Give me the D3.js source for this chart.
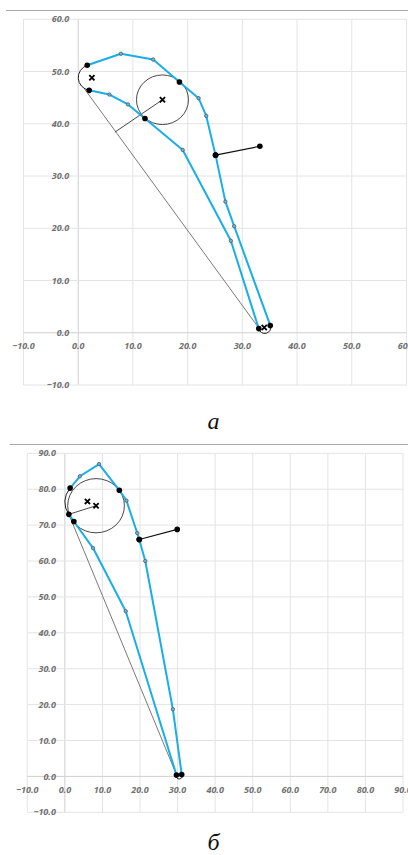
<!DOCTYPE html>
<html><head><meta charset="utf-8">
<script src="https://cdn.jsdelivr.net/npm/d3@7"></script>
<style>
html,body{margin:0;padding:0;background:#fff;}
svg{display:block;}
.tick{font-family:"Open Sans","DejaVu Sans",sans-serif;font-weight:bold;font-style:italic;font-size:9px;fill:#717171;}
.cap{font-family:"Liberation Serif","Times New Roman",serif;font-style:italic;font-size:24px;fill:#111;}
</style></head>
<body>
<svg id="c" width="408" height="855"></svg>
<script>
// ---------- Chart а ----------
const aTicksX = [-10, 0, 10, 20, 30, 40, 50, 60];
const aTicksY = [-10, 0, 10, 20, 30, 40, 50, 60];
const aUpperX = [1.65, 7.8, 13.7, 18.5, 22.0, 23.4, 25.1, 26.9, 28.5, 35.1];
const aUpperY = [51.2, 53.4, 52.3, 48.0, 44.9, 41.5, 34.0, 25.1, 20.4, 1.4];
const aUpperKey = [1, 0, 0, 1, 0, 0, 1, 0, 0, 1];
const aLowerX = [2.0, 5.7, 9.1, 12.2, 19.1, 27.9, 33.0];
const aLowerY = [46.4, 45.6, 43.7, 41.0, 35.0, 17.6, 0.8];
const aLowerKey = [1, 0, 0, 1, 0, 0, 1];
const aChord = [[1.2, 46.6], [33.0, 0.9]];
const aLeCenter = [2.5, 48.8], aLeRadius = 2.5;
const aTeCenter = [34.0, 1.0], aTeRadius = 1.1;
const aCircleCenter = [15.4, 44.6], aCircleRadius = 4.75;
const aFoot = [6.7, 38.4];
const aSegment = [[25.1, 34.0], [33.2, 35.7]];
const aCrosses = [[2.5, 48.8], [15.4, 44.6], [34.0, 1.0]];

// ---------- Chart б ----------
const bTicksX = [-10, 0, 10, 20, 30, 40, 50, 60, 70, 80, 90];
const bTicksY = [-10, 0, 10, 20, 30, 40, 50, 60, 70, 80, 90];
const bUpperX = [1.4, 4.0, 9.1, 14.5, 16.4, 19.25, 19.8, 21.4, 28.75, 31.1];
const bUpperY = [80.3, 83.6, 87.0, 79.7, 76.8, 67.8, 66.0, 60.0, 18.7, 0.5];
const bUpperKey = [1, 0, 0, 1, 0, 0, 1, 0, 0, 1];
const bLowerX = [1.06, 2.4, 7.5, 16.2, 29.7];
const bLowerY = [73.0, 71.0, 63.6, 46.0, 0.4];
const bLowerKey = [1, 1, 0, 0, 1];
const bChord = [[1.06, 73.0], [29.5, 1.0]];
const bLeCenter = [6.0, 76.6], bLeRadius = 6.0;
const bTeCenter = [30.4, 0.45], bTeRadius = 0.8;
const bCircleCenter = [8.3, 75.4], bCircleRadius = 7.55;
const bFoot = [1.06, 73.0];
const bSegment = [[19.8, 66.0], [29.9, 68.8]];
const bCrosses = [[6.0, 76.6], [8.3, 75.4]];

const svg = d3.select("#c");
const fmt = d3.format(".1f");
const BLUE = "#1aaee8";

function drawChart(cfg) {
  const g = svg.append("g");
  const x = d3.scaleLinear().domain(cfg.xDom).range(cfg.xRange);
  const y = d3.scaleLinear().domain(cfg.yDom).range(cfg.yRange);

  // top rule
  g.append("line").attr("x1", cfg.ruleX).attr("x2", 408).attr("y1", cfg.ruleY).attr("y2", cfg.ruleY)
    .attr("stroke", "#a8a8a8").attr("stroke-width", 1.2);

  // grid
  g.selectAll(".gx").data(cfg.ticksX).join("line")
    .attr("x1", d => x(d)).attr("x2", d => x(d)).attr("y1", y(cfg.yDom[0])).attr("y2", y(cfg.yDom[1]))
    .attr("stroke", d => d === 0 ? "#cfcfcf" : "#e4e4e4").attr("stroke-width", 1);
  g.selectAll(".gy").data(cfg.ticksY).join("line")
    .attr("y1", d => y(d)).attr("y2", d => y(d)).attr("x1", x(cfg.xDom[0])).attr("x2", x(cfg.xDom[1]))
    .attr("stroke", d => d === 0 ? "#cfcfcf" : "#e4e4e4").attr("stroke-width", 1);

  // labels
  g.selectAll(".lx").data(cfg.ticksX).join("text").attr("class", "tick")
    .attr("x", d => x(d)).attr("y", y(0) + 13).attr("dy", "0.35em").attr("text-anchor", "middle").text(d => fmt(d));
  g.selectAll(".ly").data(cfg.ticksY).join("text").attr("class", "tick")
    .attr("x", x(0) - 9).attr("y", d => y(d)).attr("dy", "0.35em").attr("text-anchor", "end").text(d => fmt(d));

  const rx = r => Math.abs(x(r) - x(0));
  const ry = r => Math.abs(y(r) - y(0));

  // chord
  g.append("line").attr("x1", x(cfg.chord[0][0])).attr("y1", y(cfg.chord[0][1]))
    .attr("x2", x(cfg.chord[1][0])).attr("y2", y(cfg.chord[1][1]))
    .attr("stroke", "#6a6a6a").attr("stroke-width", 0.9);

  // inscribed circle
  g.append("ellipse").attr("cx", x(cfg.circC[0])).attr("cy", y(cfg.circC[1]))
    .attr("rx", rx(cfg.circR)).attr("ry", ry(cfg.circR))
    .attr("fill", "none").attr("stroke", "#333").attr("stroke-width", 0.9);
  // radius line to foot
  g.append("line").attr("x1", x(cfg.foot[0])).attr("y1", y(cfg.foot[1]))
    .attr("x2", x(cfg.circC[0])).attr("y2", y(cfg.circC[1]))
    .attr("stroke", "#333").attr("stroke-width", 0.9);

  // leading edge arc
  const up0 = [cfg.upX[0], cfg.upY[0]], lo0 = [cfg.loX[0], cfg.loY[0]];
  g.append("path")
    .attr("d", `M${x(up0[0])},${y(up0[1])} A${rx(cfg.leR)},${ry(cfg.leR)} 0 0 0 ${x(lo0[0])},${y(lo0[1])}`)
    .attr("fill", "none").attr("stroke", "#222").attr("stroke-width", 1);
  // trailing edge arc
  const upN = [cfg.upX[cfg.upX.length - 1], cfg.upY[cfg.upY.length - 1]];
  const loN = [cfg.loX[cfg.loX.length - 1], cfg.loY[cfg.loY.length - 1]];
  g.append("path")
    .attr("d", `M${x(loN[0])},${y(loN[1])} A${rx(cfg.teR)},${ry(cfg.teR)} 0 1 0 ${x(upN[0])},${y(upN[1])}`)
    .attr("fill", "none").attr("stroke", "#222").attr("stroke-width", 1);

  // contour lines
  const line = d3.line().x(d => x(d[0])).y(d => y(d[1]));
  const up = cfg.upX.map((v, i) => [v, cfg.upY[i], cfg.upK[i]]);
  const lo = cfg.loX.map((v, i) => [v, cfg.loY[i], cfg.loK[i]]);
  [up, lo].forEach(pts => {
    g.append("path").attr("d", line(pts)).attr("fill", "none")
      .attr("stroke", BLUE).attr("stroke-width", 2).attr("stroke-linejoin", "round");
  });

  // black segment
  g.append("line").attr("x1", x(cfg.seg[0][0])).attr("y1", y(cfg.seg[0][1]))
    .attr("x2", x(cfg.seg[1][0])).attr("y2", y(cfg.seg[1][1]))
    .attr("stroke", "#111").attr("stroke-width", 1.2);

  // small markers
  const all = up.concat(lo);
  g.selectAll(".sm").data(all.filter(d => !d[2])).join("circle")
    .attr("cx", d => x(d[0])).attr("cy", d => y(d[1])).attr("r", 1.7)
    .attr("fill", "#6fb6d6").attr("stroke", "#4a5a66").attr("stroke-width", 0.8);
  // key points
  g.selectAll(".kp").data(all.filter(d => d[2]).concat(cfg.seg)).join("circle")
    .attr("cx", d => x(d[0])).attr("cy", d => y(d[1])).attr("r", 2.8).attr("fill", "#000");

  // crosses
  const s = 2.6;
  cfg.crosses.forEach(c => {
    const cx = x(c[0]), cy = y(c[1]);
    g.append("path").attr("d", `M${cx - s},${cy - s}L${cx + s},${cy + s}M${cx - s},${cy + s}L${cx + s},${cy - s}`)
      .attr("stroke", "#000").attr("stroke-width", 1.8);
  });

  // caption
  g.append("text").attr("class", "cap").attr("x", 213.5).attr("y", cfg.capY)
    .attr("text-anchor", "middle").text(cfg.caption);
}

drawChart({
  xDom: [-10, 60], xRange: [23.5, 406.5], yDom: [-10, 60], yRange: [385, 19.3],
  ruleX: 6, ruleY: 10.5,
  ticksX: aTicksX, ticksY: aTicksY,
  upX: aUpperX, upY: aUpperY, upK: aUpperKey,
  loX: aLowerX, loY: aLowerY, loK: aLowerKey,
  chord: aChord, leR: aLeRadius, teR: aTeRadius,
  circC: aCircleCenter, circR: aCircleRadius, foot: aFoot,
  seg: aSegment, crosses: aCrosses,
  caption: "а", capY: 429
});
drawChart({
  xDom: [-10, 90], xRange: [27.3, 403], yDom: [-10, 90], yRange: [812.3, 453.3],
  ruleX: 10, ruleY: 444.5,
  ticksX: bTicksX, ticksY: bTicksY,
  upX: bUpperX, upY: bUpperY, upK: bUpperKey,
  loX: bLowerX, loY: bLowerY, loK: bLowerKey,
  chord: bChord, leR: bLeRadius, teR: bTeRadius,
  circC: bCircleCenter, circR: bCircleRadius, foot: bFoot,
  seg: bSegment, crosses: bCrosses,
  caption: "б", capY: 850
});
</script>
</body></html>
